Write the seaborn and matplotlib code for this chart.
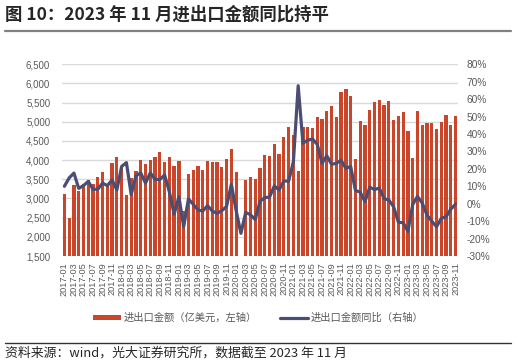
import numpy as np
import pandas as pd
import matplotlib
matplotlib.use('Agg')
import matplotlib.pyplot as plt
from matplotlib.patches import Patch
from matplotlib.lines import Line2D
from matplotlib.ticker import FuncFormatter, MultipleLocator
import seaborn as sns

# ── 1. Data ─────────────────────────────────────────────────
months = [str(p) for p in pd.period_range('2017-01', '2023-11', freq='M')]

# 进出口金额, 亿美元 (2020-02 has no bar in the source)
amount_2017 = [3130, 2490, 3360, 3190, 3380, 3490, 3390, 3570, 3680, 3380, 3930, 4090]
amount_2018 = [3800, 3080, 3526, 3717, 3995, 3905, 4010, 4070, 4210, 3960, 4070, 3850]
amount_2019 = [3970, 2670, 3646, 3735, 3855, 3745, 3985, 3945, 3960, 3830, 4030, 4290]
amount_2020 = [3683, np.nan, 3490, 3550, 3506, 3805, 4130, 4117, 4415, 4155, 4600, 4865]
amount_2021 = [4656, 3720, 4870, 4863, 4840, 5117, 5075, 5285, 5425, 5135, 5775, 5860]
amount_2022 = [5673, 4030, 5029, 4916, 5310, 5525, 5568, 5438, 5542, 5047, 5151, 5247]
amount_2023 = [4765, 4047, 5282, 4916, 4975, 4978, 4812, 5004, 5178, 4916, 5151]

# 进出口金额同比, %
yoy_2017 = [10.0, 14.8, 17.6, 8.8, 10.4, 12.8, 8.3, 8.3, 11.8, 10.4, 13.6, 7.9]
yoy_2018 = [21.4, 23.6, 5.3, 16.0, 17.7, 11.8, 17.7, 14.0, 13.8, 16.5, 6.9, -6.0]
yoy_2019 = [4.0, -13.2, 2.7, -0.3, -3.6, -4.2, -1.1, -4.2, -5.5, -4.0, -1.5, 11.2]
yoy_2020 = [-4.0, -17.0, -5.0, -6.3, -9.1, 1.4, 3.5, 3.8, 10.2, 7.9, 13.0, 13.0]
yoy_2021 = [24.1, 67.7, 34.7, 36.5, 37.1, 34.1, 23.2, 27.5, 22.6, 23.2, 24.9, 20.3]
yoy_2022 = [21.4, 7.7, 6.6, 1.2, 9.5, 8.1, 9.0, 2.9, 2.1, -1.7, -10.6, -10.9]
yoy_2023 = [-15.8, -0.5, 4.2, 0.4, -6.5, -10.0, -13.2, -8.4, -7.5, -3.1, -0.2]

amount = (amount_2017 + amount_2018 + amount_2019 + amount_2020
          + amount_2021 + amount_2022 + amount_2023)
yoy = yoy_2017 + yoy_2018 + yoy_2019 + yoy_2020 + yoy_2021 + yoy_2022 + yoy_2023

df = pd.DataFrame({'month': months, 'amount': amount, 'yoy': yoy})

bar_color = '#C9462A'
line_color = '#4B4E72'
text_gray = '#595959'

# ── 2. Style ─────────────────────────────────────────────────
sns.set_style('white')
plt.rcParams['font.family'] = ['Liberation Sans', 'Noto Sans CJK SC', 'DejaVu Sans']
cjk = ['Noto Sans CJK SC', 'DejaVu Sans']

W, H = 516, 363
fig = plt.figure(figsize=(W / 100, H / 100), dpi=100)
left, right, top, bottom = 62, 458, 64.3, 256
ax = fig.add_axes([left / W, 1 - bottom / H, (right - left) / W, (bottom - top) / H])

# ── 3. Bars (left axis) ──────────────────────────────────────
sns.barplot(data=df, x='month', y='amount', order=months, color=bar_color,
            saturation=1, width=0.68, errorbar=None, ax=ax, zorder=2,
            linewidth=0)
ax.set_ylim(1500, 6500)
ax.yaxis.set_major_locator(MultipleLocator(500))
ax.yaxis.set_major_formatter(FuncFormatter(lambda v, p: f'{v:,.0f}'))
ax.grid(axis='y', color='#D9D9D9', linewidth=1, zorder=0)
ax.set_axisbelow(True)
ax.set_xlim(-0.5, len(months) - 0.5)
ax.set_xticks(range(0, len(months), 2))
ax.set_xticklabels(months[::2], rotation=90)
ax.set_xlabel('')
ax.set_ylabel('')
ax.tick_params(axis='y', length=0, pad=8.5, labelsize=7, labelcolor=text_gray)
ax.tick_params(axis='x', length=0, pad=4.5, labelsize=6.6, labelcolor=text_gray)
sns.despine(ax=ax, left=True, bottom=True)

# ── 4. YoY line (right axis) ─────────────────────────────────
ax2 = ax.twinx()
sns.lineplot(x=np.arange(len(months)), y=df['yoy'], color=line_color,
             linewidth=2.3, ax=ax2)
ax2.set_ylim(-30, 80)
ax2.yaxis.set_major_locator(MultipleLocator(10))
ax2.yaxis.set_major_formatter(FuncFormatter(lambda v, p: f'{v:.0f}%'))
ax2.set_ylabel('')
ax2.tick_params(axis='y', length=0, pad=6, labelsize=7.3, labelcolor=text_gray)
for s in ax2.spines.values():
    s.set_visible(False)

# ── 5. Legend ────────────────────────────────────────────────
handles = [Patch(facecolor=bar_color, edgecolor='none'),
           Line2D([], [], color=line_color, linewidth=2.3)]
labels = ['进出口金额（亿美元，左轴）', '进出口金额同比（右轴）']
fig.legend(handles, labels, loc='center', bbox_to_anchor=(258 / W, 1 - 318 / H),
           ncol=2, frameon=False, handlelength=2.7, handleheight=0.45,
           handletextpad=0.25, columnspacing=2.3,
           prop={'family': cjk, 'size': 7.4}, labelcolor=text_gray)

# ── 6. Title, rules and source ───────────────────────────────
fig.text(5 / W, 1 - 15 / H, '图 10：2023 年 11 月进出口金额同比持平',
         family=cjk, fontsize=12.5, fontweight='bold', va='center', ha='left')
fig.add_artist(Line2D([5 / W, 511 / W], [1 - 31 / H, 1 - 31 / H],
                      color='#808080', linewidth=1.6))
fig.add_artist(Line2D([5 / W, 511 / W], [1 - 342.5 / H, 1 - 342.5 / H],
                      color='#333333', linewidth=1.0))
fig.text(5 / W, 1 - 353 / H, '资料来源：wind，光大证券研究所，数据截至 2023 年 11 月',
         family=cjk, fontsize=9.3, va='center', ha='left')

fig.savefig('out.png', dpi=100)
plt.close(fig)
